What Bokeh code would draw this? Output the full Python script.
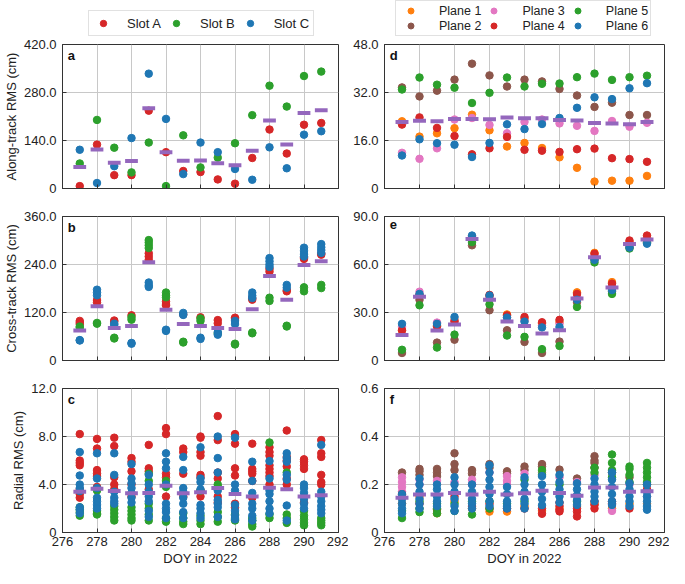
from bokeh.plotting import figure
from bokeh.models import Legend, LegendItem, Label, FixedTicker, PrintfTickFormatter
from bokeh.layouts import row, column
from bokeh.embed import file_html
from bokeh.resources import INLINE

FONT = "Liberation Sans"

days = [277, 278, 279, 280, 281, 282, 283, 284, 285, 286, 287, 288, 289, 290, 291]
x_ticks = [276, 278, 280, 282, 284, 286, 288, 290, 292]

slot_names = ["Slot A", "Slot B", "Slot C"]
slot_colors = ["#d62728", "#2ca02c", "#1f77b4"]
plane_names = ["Plane 1", "Plane 2", "Plane 3", "Plane 4", "Plane 5", "Plane 6"]
plane_colors = ["#ff7f0e", "#8c564b", "#e377c2", "#d62728", "#2ca02c", "#1f77b4"]
mean_color = "#9467bd"

# panel a: along-track RMS per slot (cm)
slot_a_along = [7, 128, 39, 39, 227, 106, 51, 48, 26.5, 14, 89, 172, 102, 186, 191]
slot_b_along = [73, 200, 119, 47, 134, 7, 155, 61.5, 90, 132, 214, 300, 239, 328, 341]
slot_c_along = [113, 16, 65, 147, 335, 203, 42, 134, 106, 57, 25.5, 120, 59, 157, 167]
mean_along = [63, 114, 75, 80, 234, 106, 81, 82, 74, 68, 110, 198, 128, 220, 228]

# panel b: cross-track RMS per slot (cm)
slot_a_cross = [[99, 95, 91], [151, 145], [100, 97], [113], [268, 260, 252],
                [148, 141, 138], [115], [108], [101, 93], [107, 104], [152, 156],
                [229, 222], [173, 176], [254, 257], [264.5, 267]]
slot_b_cross = [[85, 82], [94, 92], [57, 55], [108, 102], [301, 295, 288, 281],
                [170, 163, 158], [47, 45], [105, 99], [68], [42, 40], [68, 70],
                [157, 149], [87, 85], [183, 173], [189, 181]]
slot_c_cross = [[51, 50], [177, 170, 163], [92, 89], [44, 42], [195, 188, 184],
                [77, 74], [119, 114], [57, 54], [71, 64.5], [99, 91], [170, 162, 156],
                [256, 248, 240, 234], [189, 182], [282, 274, 266, 260], [291, 283, 276, 269]]
mean_cross = [75, 135.5, 81, 86.5, 245.7, 127, 91, 86.5, 81, 79, 128, 211, 152, 239, 248]

# panel c: radial RMS per slot (cm)
slot_a_radial = [[8.2, 6.0, 5.8, 5.6, 3.6, 3.2, 2.9], [7.8, 7.0, 5.2, 4.9, 4.7, 3.8],
                 [7.9, 7.2, 4.6, 4.0, 3.6], [6.2, 5.9, 5.1, 4.0, 3.0], [7.3, 5.35, 5.1, 3.6],
                 [8.7, 8.2, 4.9, 4.6, 3.0], [7.0, 6.7, 4.9, 3.0],
                 [8.0, 7.9, 6.7, 6.4, 4.8, 4.6, 3.5, 3.0], [9.7, 7.7, 5.0, 4.5, 3.0, 2.5],
                 [8.2, 7.4, 5.35, 4.75, 2.4, 2.1], [7.4, 5.3, 5.1, 4.9, 4.3, 2.9],
                 [7.1, 6.7, 6.4, 5.6, 5.3, 5.0, 4.7, 4.0], [8.5, 6.3, 6.0, 5.5, 4.5, 4.0],
                 [6.1, 5.9, 5.6, 5.3, 2.5], [7.7, 6.6, 6.3, 4.8, 4.2, 4.0]]
slot_b_radial = [[2.1, 1.9, 1.7, 1.4], [3.5, 1.8, 1.6, 1.5], [2.2, 1.9, 1.6, 1.3, 1.0],
                 [2.1, 1.8, 1.5, 1.2, 1.0], [4.9, 4.3, 2.4, 2.0, 1.5, 1.0],
                 [4.3, 3.8, 1.2, 0.9], [1.6, 1.2, 0.9, 0.7], [3.5, 1.4, 1.0, 0.7],
                 [4.0, 3.8, 1.7, 1.3, 0.9], [1.5, 1.2, 1.0], [1.2, 1.0, 0.7, 0.5],
                 [7.5, 1.5, 1.2], [5.0, 1.5, 1.2, 0.8], [1.8, 1.4, 1.1, 0.8, 0.6],
                 [1.2, 1.0, 0.8, 0.6]]
slot_c_radial = [[6.7, 4.75, 4.0, 3.7, 3.45, 2.1, 1.9, 1.6], [6.6, 4.5, 3.7, 2.9, 2.6, 2.3, 2.0],
                 [6.6, 4.8, 3.4, 2.9, 2.6, 2.4], [5.7, 4.5, 4.1, 3.7, 3.3, 2.9, 2.5],
                 [4.8, 4.0, 3.4, 3.0, 2.6, 1.8, 1.3], [6.6, 5.9, 5.35, 4.0, 2.4, 2.0, 1.7, 1.2],
                 [6.3, 5.2, 3.7, 3.4, 2.9, 2.4, 1.7, 1.2], [7.1, 4.5, 4.2, 3.6, 2.3, 2.0, 1.6, 1.2],
                 [8.0, 6.2, 5.0, 3.5, 2.7, 2.4, 2.1, 1.3], [7.9, 4.0, 3.5, 2.3, 1.8, 1.4, 1.1],
                 [5.9, 4.3, 3.3, 2.4, 2.0, 1.4, 1.0], [5.95, 4.5, 3.5, 3.2, 2.6, 2.0, 1.6],
                 [6.6, 6.2, 5.9, 4.8, 4.4, 2.25, 1.0], [4.0, 3.7, 3.3, 2.8, 2.4, 2.0],
                 [7.3, 3.4, 3.0, 2.6, 2.2, 1.9, 1.6]]
mean_radial = [3.4, 3.65, 3.45, 3.27, 3.3, 3.9, 3.27, 3.35, 3.7, 3.2, 3.0, 3.73, 3.6, 3.0, 3.1]

# panel d: along-track RMS per plane (cm)
plane1_along = [22.4, 17.3, 18.4, 20.1, 24.6, 19.4, 14.0, 15.2, 13.5, 10.4, 6.9, 2.3, 2.6, 2.6, 4.2]
plane2_along = [33.7, 30.7, 32.6, 36.3, 41.6, 37.7, 34.0, 36.3, 35.7, 33.2, 31.0, 27.2, 28.6, 24.5, 24.5]
plane3_along = [11.9, 9.9, 13.4, 23.0, 23.5, 21.2, 18.4, 22.2, 23.0, 21.7, 20.9, 19.2, 22.5, 20.6, 21.9]
plane4_along = [21.3, 23.7, 20.2, 17.5, 11.4, 13.4, 17.2, 12.9, 12.6, 12.2, 13.1, 13.3, 10.1, 9.8, 8.9]
plane5_along = [33.0, 37.0, 34.6, 33.6, 28.5, 31.9, 37.0, 34.0, 34.9, 35.0, 37.1, 38.3, 36.2, 37.1, 37.6]
plane6_along = [11.0, 16.4, 15.1, 14.6, 10.5, 15.2, 21.4, 19.8, 21.5, 23.5, 26.9, 30.4, 29.8, 33.4, 35.1]
mean_plane_along = [22.2, 22.6, 22.4, 23.2, 23.2, 23.1, 23.7, 23.4, 23.4, 22.8, 22.7, 21.8, 21.7, 21.4, 22.2]

# panel e: cross-track RMS per plane (cm)
plane1_cross = [19, 40.5, 22, 25.4, 77, 40, 28.8, 26, 23, 24, 42.6, 67.3, 49, 74, 77]
plane2_cross = [4.7, 37.9, 11.2, 13.0, 72.0, 31.4, 18.9, 11.6, 4.7, 11.8, 36.5, 63, 43, 71, 74]
plane3_cross = [21, 43.0, 23.7, 25, 77.5, 39, 27, 25, 22, 23, 40, 65, 46, 72, 75]
plane4_cross = [18.9, 41, 21.3, 24.3, 77, 41, 28.2, 27.2, 23.9, 25.4, 41.6, 66.7, 48.0, 75.0, 78.1]
plane5_cross = [6.7, 34.5, 8.1, 16.2, 74.0, 35.1, 15.6, 14.8, 7.1, 9.1, 33.5, 61.3, 41.6, 70.0, 74]
plane6_cross = [22.9, 41.6, 22.9, 27.2, 78.1, 40.6, 26.8, 24.3, 20.7, 20.9, 38, 62.9, 44.0, 70.6, 73.0]
mean_plane_cross = [16.0, 39.8, 18.7, 22.5, 75.9, 37.9, 24.3, 21.5, 16.8, 18.9, 38.7, 64.5, 45.6, 72.8, 75.7]

# panel f: radial RMS per plane (cm)
plane1_radial = [[0.12], [0.15], [0.08], [0.13], [0.1], [0.087], [0.087], [0.11], [0.09],
                 [0.1], [0.11], [0.12], [0.1], [0.12], [0.12]]
plane2_radial = [[0.25], [0.265, 0.255, 0.24], [0.265, 0.25, 0.235], [0.33, 0.285, 0.26],
                 [0.26, 0.245], [0.285, 0.27], [0.255, 0.245], [0.275, 0.26], [0.285, 0.275],
                 [0.262], [0.225], [0.318, 0.3, 0.29, 0.27], [0.25], [0.23], [0.2]]
plane3_radial = [[0.23, 0.21, 0.19, 0.17], [0.22, 0.2], [0.215], [0.21], [0.22, 0.2], [0.25],
                 [0.235, 0.215, 0.2], [0.245], [0.25], [0.23], [0.21], [0.24], [0.09], [0.2],
                 [0.15]]
plane4_radial = [[0.16], [0.12], [0.095], [0.15], [0.11], [0.12, 0.1], [0.1], [0.1],
                 [0.1, 0.078], [0.125, 0.11, 0.095, 0.088], [0.1, 0.087, 0.067],
                 [0.13, 0.115, 0.1], [0.13, 0.12], [0.1], [0.18]]
plane5_radial = [[0.06, 0.09], [0.13, 0.1, 0.085], [0.12, 0.1, 0.08], [0.09, 0.12],
                 [0.075, 0.13], [0.13, 0.1], [0.12], [0.22, 0.13], [0.26, 0.24], [0.2], [0.13],
                 [0.27, 0.25], [0.325, 0.29, 0.26, 0.23], [0.275, 0.265, 0.24, 0.21],
                 [0.29, 0.27, 0.25, 0.23, 0.21]]
plane6_radial = [[0.16, 0.14, 0.12, 0.1, 0.08], [0.225, 0.2, 0.17, 0.14, 0.12, 0.1],
                 [0.2, 0.18, 0.15, 0.13, 0.11], [0.23, 0.2, 0.17, 0.14, 0.11, 0.09],
                 [0.2, 0.17, 0.14, 0.12, 0.1], [0.28, 0.25, 0.22, 0.19, 0.16, 0.13, 0.11],
                 [0.19, 0.16, 0.13, 0.11, 0.1], [0.23, 0.2, 0.17, 0.14, 0.12, 0.1],
                 [0.235, 0.2, 0.17, 0.14, 0.114], [0.24, 0.21, 0.18, 0.15, 0.125],
                 [0.205, 0.18, 0.155, 0.135, 0.115], [0.225, 0.2, 0.17, 0.15, 0.13],
                 [0.25, 0.22, 0.19, 0.16, 0.13, 0.115], [0.205, 0.18, 0.15, 0.13, 0.11],
                 [0.2, 0.17, 0.15, 0.13, 0.11, 0.095]]
mean_plane_radial = [0.145, 0.158, 0.158, 0.165, 0.158, 0.17, 0.158, 0.164, 0.174, 0.165,
                     0.153, 0.188, 0.188, 0.17, 0.172]

FRAME_W, FRAME_H = 280, 144
DOT = 7.5
LEFT_L, RIGHT_L = 58, 10
LEFT_R, RIGHT_R = 36, 5
LEGEND_H, TOP_FIRST, GAP, BOTTOM_LAST = 37, 7, 14, 36


def spread(groups):
    xs, ys = [], []
    for d, vals in zip(days, groups):
        xs += [d] * len(vals)
        ys += vals
    return xs, ys


def panel(letter, y_max, y_ticks, y_title, left, right, top, bottom, bottom_row):
    p = figure(width=left + FRAME_W + right, height=top + FRAME_H + bottom,
               x_range=(276, 292), y_range=(0, y_max),
               output_backend="svg", toolbar_location=None,
               min_border_left=left, min_border_right=right,
               min_border_top=top, min_border_bottom=bottom)
    p.outline_line_color = "#333333"
    p.xaxis.ticker = FixedTicker(ticks=x_ticks)
    p.yaxis.ticker = FixedTicker(ticks=y_ticks)
    p.yaxis.formatter = PrintfTickFormatter(format="%.1f")
    p.yaxis.major_label_overrides = {0: "0"}
    for ax in p.axis:
        ax.axis_line_color = "#333333"
        ax.major_tick_in = 4
        ax.major_tick_out = 0
        ax.major_tick_line_color = "#333333"
        ax.minor_tick_line_color = None
        ax.major_label_text_font = FONT
        ax.major_label_text_font_size = "13px"
        ax.major_label_text_color = "#222222"
        ax.axis_label_text_font = FONT
        ax.axis_label_text_font_size = "13px"
        ax.axis_label_text_font_style = "normal"
        ax.axis_label_text_color = "#222222"
    p.yaxis.major_label_standoff = 6
    p.yaxis.axis_label_standoff = 2
    p.xaxis.major_label_standoff = 4
    p.xaxis.axis_label_standoff = 2
    p.grid.grid_line_color = "#c8c8c8"
    if y_title:
        p.yaxis.axis_label = y_title
    if bottom_row:
        p.xaxis.axis_label = "DOY in 2022"
    else:
        p.xaxis.major_label_overrides = {t: "" for t in x_ticks}
    p.add_layout(Label(x=276.3, y=y_max * 0.975, text=letter, text_font=FONT,
                       text_font_size="13px", text_font_style="bold",
                       text_baseline="top", text_color="#111111"))
    return p


def add_means(p, means):
    p.rect(x=days, y=means, width=0.74, height=4, height_units="screen",
           fill_color=mean_color, line_color=None)


def legend_strip(names, colors, series, left, right, nrows, location):
    # thin axis-free figure whose frame only holds the legend box;
    # its ranges keep the series' own points out of view
    p = figure(width=left + FRAME_W + right, height=LEGEND_H,
               x_range=(0, 1), y_range=(0, 1),
               x_axis_type=None, y_axis_type=None,
               output_backend="svg", toolbar_location=None,
               min_border_left=left, min_border_right=right,
               min_border_top=0, min_border_bottom=0)
    p.outline_line_color = None
    p.grid.visible = False
    items = []
    for name, color, values in zip(names, colors, series):
        r = p.scatter(days, values, size=DOT, color=color)
        items.append(LegendItem(label=name, renderers=[r]))
    legend = Legend(items=items, location=location,
                    orientation="horizontal" if nrows == 1 else "vertical")
    legend.margin = 0
    if nrows > 1:
        legend.nrows = nrows
        legend.padding = 2
        legend.spacing = 0
        legend.glyph_width = 25
        legend.label_standoff = 16
        legend.glyph_height = 15
        legend.label_height = 15
        legend.label_text_font_size = "12.5px"
    else:
        legend.padding = 4
        legend.spacing = 5
        legend.glyph_width = 20
        legend.label_standoff = 14
        legend.glyph_height = 16
        legend.label_height = 16
        legend.label_text_font_size = "13px"
    legend.label_text_font = FONT
    legend.label_text_color = "#222222"
    legend.border_line_color = "#c4c4c4"
    p.add_layout(legend)
    return p


slot_along = [slot_a_along, slot_b_along, slot_c_along]
slot_cross = [slot_a_cross, slot_b_cross, slot_c_cross]
slot_radial = [slot_a_radial, slot_b_radial, slot_c_radial]

# left column: slots
leg_a = legend_strip(slot_names, slot_colors, slot_along, LEFT_L, RIGHT_L, 1, (26, 1))
pa = panel("a", 420, [0, 140, 280, 420], "Along-track RMS (cm)", LEFT_L, RIGHT_L, TOP_FIRST, GAP, False)
pb = panel("b", 360, [0, 120, 240, 360], "Cross-track RMS (cm)", LEFT_L, RIGHT_L, GAP, GAP, False)
pc = panel("c", 12, [0, 4, 8, 12], "Radial RMS (cm)", LEFT_L, RIGHT_L, GAP, BOTTOM_LAST, True)

for color, along, cross, radial in zip(slot_colors, slot_along, slot_cross, slot_radial):
    pa.scatter(days, along, size=DOT, color=color)
    xs, ys = spread(cross)
    pb.scatter(xs, ys, size=DOT, color=color)
    xs, ys = spread(radial)
    pc.scatter(xs, ys, size=DOT, color=color)
add_means(pa, mean_along)
add_means(pb, mean_cross)
add_means(pc, mean_radial)

plane_along = [plane1_along, plane2_along, plane3_along, plane4_along, plane5_along, plane6_along]
plane_cross = [plane1_cross, plane2_cross, plane3_cross, plane4_cross, plane5_cross, plane6_cross]
plane_radial = [plane1_radial, plane2_radial, plane3_radial, plane4_radial, plane5_radial, plane6_radial]

# right column: planes
leg_d = legend_strip(plane_names, plane_colors, plane_along, LEFT_R, RIGHT_R, 2, (11, 1))
pd_ = panel("d", 48, [0, 16, 32, 48], None, LEFT_R, RIGHT_R, TOP_FIRST, GAP, False)
pe = panel("e", 90, [0, 30, 60, 90], None, LEFT_R, RIGHT_R, GAP, GAP, False)
pf = panel("f", 0.6, [0, 0.2, 0.4, 0.6], None, LEFT_R, RIGHT_R, GAP, BOTTOM_LAST, True)

for color, along, cross, radial in zip(plane_colors, plane_along, plane_cross, plane_radial):
    pd_.scatter(days, along, size=DOT, color=color)
    pe.scatter(days, cross, size=DOT, color=color)
    xs, ys = spread(radial)
    pf.scatter(xs, ys, size=DOT, color=color)
add_means(pd_, mean_plane_along)
add_means(pe, mean_plane_cross)
add_means(pf, mean_plane_radial)

layout = row(column(leg_a, pa, pb, pc), column(leg_d, pd_, pe, pf))

open("out.html", "w").write(file_html(layout, INLINE))
